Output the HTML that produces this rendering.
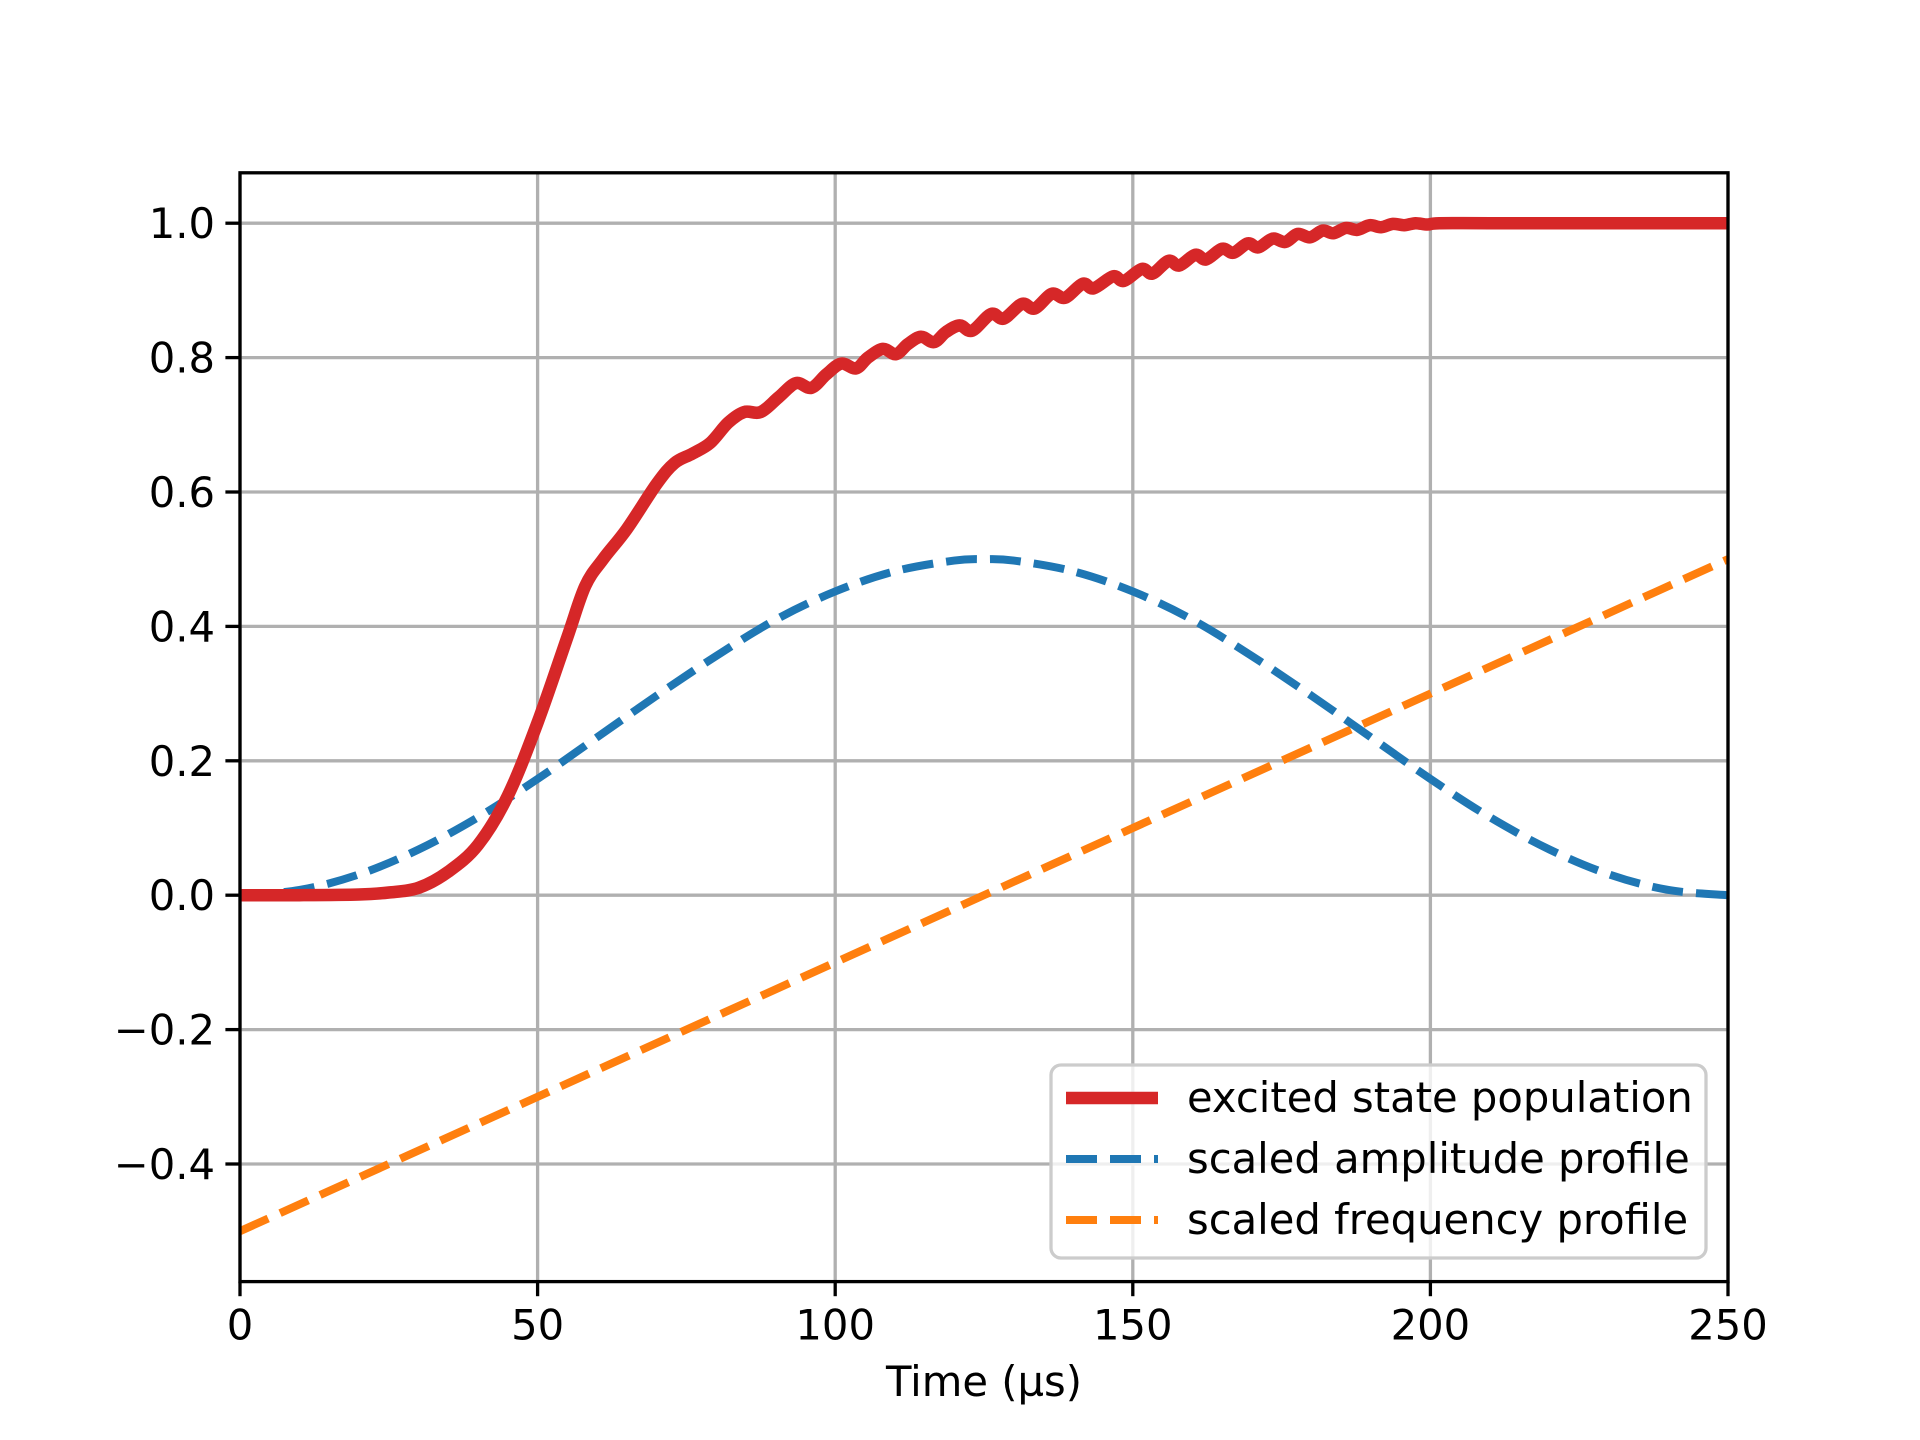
<!DOCTYPE html>
<html><head><meta charset="utf-8"><style>
html,body{margin:0;padding:0;background:#fff}
svg{display:block}
text{font-family:"DejaVu Sans","Liberation Sans",sans-serif;fill:#000}
</style></head><body>
<svg id="chart" width="1920" height="1440" viewBox="0 0 1920 1440" xmlns="http://www.w3.org/2000/svg">
<rect width="1920" height="1440" fill="#fff"/>
<g id="grid"></g>
<g id="series"></g>
<g id="axes"></g>
<g id="legend"></g>
</svg>
<script>
const xTicks = [0, 50, 100, 150, 200, 250];
const yTicks = [-0.4, -0.2, 0.0, 0.2, 0.4, 0.6, 0.8, 1.0];
const yTickLabels = ["\u22120.4", "\u22120.2", "0.0", "0.2", "0.4", "0.6", "0.8", "1.0"];
const popT = [0,10,20,25,30,35,40,45,50,55,58,61,65,70,73,76,79,82,84.7,87.5,90.5,93.4,96,98.5,101,103.5,105.5,108,110.2,112.2,114.4,116.6,118.6,120.9,123,126.2,128.3,131.4,133.5,136.4,138.6,141.6,143.4,146.7,148.5,151.5,153.3,156,157.8,160.5,162.3,165,166.9,169.3,171.1,173.5,175.6,177.7,179.8,181.9,183.7,185.8,187.7,189.8,191.7,193.7,195.6,197.5,199.5,201.5,210,230,250];
const popV = [0,0,0.001,0.004,0.011,0.035,0.075,0.148,0.257,0.384,0.46,0.50,0.545,0.612,0.643,0.657,0.673,0.703,0.719,0.719,0.741,0.762,0.755,0.775,0.791,0.784,0.800,0.813,0.805,0.820,0.831,0.823,0.838,0.848,0.840,0.865,0.858,0.880,0.873,0.895,0.889,0.910,0.903,0.921,0.914,0.932,0.925,0.944,0.937,0.953,0.946,0.962,0.956,0.970,0.964,0.977,0.972,0.984,0.979,0.989,0.985,0.993,0.990,0.997,0.994,0.999,0.997,1.0,0.998,1.0,1.0,1.0,1.0];
const ampT = [0,10,20,30,40,50,60,70,80,90,100,110,120,125,130,140,150,160,170,180,190,200,210,220,230,240,250];
const ampV = [0,0.0078,0.031,0.068,0.116,0.173,0.235,0.297,0.356,0.410,0.452,0.482,0.498,0.5,0.498,0.482,0.452,0.410,0.356,0.297,0.235,0.173,0.116,0.068,0.031,0.0078,0];
const freqT = [0,250];
const freqV = [-0.5,0.5];
const legendLabels = ["excited state population","scaled amplitude profile","scaled frequency profile"];

const L=240,R=1728,T=172.8,B=1281.6,XMIN=0,XMAX=250,YMIN=-0.575,YMAX=1.075;
const NS="http://www.w3.org/2000/svg";
function sx(v){return L+(v-XMIN)/(XMAX-XMIN)*(R-L);}
function sy(v){return B-(v-YMIN)/(YMAX-YMIN)*(B-T);}
function mk(tag,attrs,parent){const e=document.createElementNS(NS,tag);for(const k in attrs)e.setAttribute(k,attrs[k]);parent.appendChild(e);return e;}
const grid=document.getElementById('grid'),series=document.getElementById('series'),axes=document.getElementById('axes'),legend=document.getElementById('legend');
const defs=mk('defs',{},document.getElementById('chart'));
const cp=mk('clipPath',{id:'clip'},defs);mk('rect',{x:L,y:T,width:R-L,height:B-T},cp);
series.setAttribute('clip-path','url(#clip)');

xTicks.forEach(v=>{
  const g=mk('line',{x1:sx(v),x2:sx(v),y1:T,y2:B,stroke:'#b0b0b0','stroke-width':3.3},grid);
  
  
  const t=mk('line',{x1:sx(v),x2:sx(v),y1:B,y2:B+14.6,stroke:'#000','stroke-width':3.3},axes);
  
  
  const l=mk('text',{x:sx(v),y:B+58,'text-anchor':'middle','font-size':41.7},axes);
  l.textContent=String(v);
  
  
});
yTicks.forEach((v,i)=>{
  const g=mk('line',{x1:L,x2:R,y1:sy(v),y2:sy(v),stroke:'#b0b0b0','stroke-width':3.3},grid);
  
  
  const t=mk('line',{x1:L-14.6,x2:L,y1:sy(v),y2:sy(v),stroke:'#000','stroke-width':3.3},axes);
  
  
  const l=mk('text',{x:L-25,y:sy(v)+15,'text-anchor':'end','font-size':41.7},axes);
  l.textContent=yTickLabels[i];
  
  
});

function smoothPath(ts,vs){
  const p=ts.map((t,i)=>[sx(t),sy(vs[i])]);
  let d='M'+p[0][0]+','+p[0][1];
  for(let i=0;i<p.length-1;i++){
    const p0=p[Math.max(0,i-1)],p1=p[i],p2=p[i+1],p3=p[Math.min(p.length-1,i+2)];
    const c1=[p1[0]+(p2[0]-p0[0])/6,p1[1]+(p2[1]-p0[1])/6];
    const c2=[p2[0]-(p3[0]-p1[0])/6,p2[1]-(p3[1]-p1[1])/6];
    d+=' C'+c1[0]+','+c1[1]+' '+c2[0]+','+c2[1]+' '+p2[0]+','+p2[1];
  }
  return d;
}
const fl=mk('path',{d:smoothPath(freqT,freqV),fill:'none',stroke:'#ff7f0e','stroke-width':8,'stroke-dasharray':'31 13'},series);


const al=mk('path',{d:smoothPath(ampT,ampV),fill:'none',stroke:'#1f77b4','stroke-width':8,'stroke-dasharray':'31 13'},series);


const pl=mk('path',{d:smoothPath(popT,popV),fill:'none',stroke:'#d62728','stroke-width':12.5,'stroke-linejoin':'round'},series);



const fr=mk('rect',{x:L,y:T,width:R-L,height:B-T,fill:'none',stroke:'#000','stroke-width':3.3},axes);


const xl=mk('text',{x:(L+R)/2,y:1396,'text-anchor':'middle','font-size':41.7},axes);
xl.textContent='Time (\u00b5s)';



const box=mk('rect',{x:1051,y:1065,width:655,height:193,rx:10,fill:'#fff','fill-opacity':0.8,stroke:'#cccccc','stroke-width':3.3},legend);


const cols=['#d62728','#1f77b4','#ff7f0e'],ws=[12.5,8,8],ly=[1098,1159,1220];
legendLabels.forEach((lab,i)=>{
  const g=mk('g',{},legend);
  
  
  const a={x1:1066,x2:1158,y1:ly[i],y2:ly[i],stroke:cols[i],'stroke-width':ws[i]};
  if(i>0)a['stroke-dasharray']='31 13';
  const sw=mk('line',a,g);
  
  
  const t=mk('text',{x:1187,y:ly[i]+14,'font-size':41.7},g);
  t.textContent=lab;
  
  
});
</script>
</body></html>
